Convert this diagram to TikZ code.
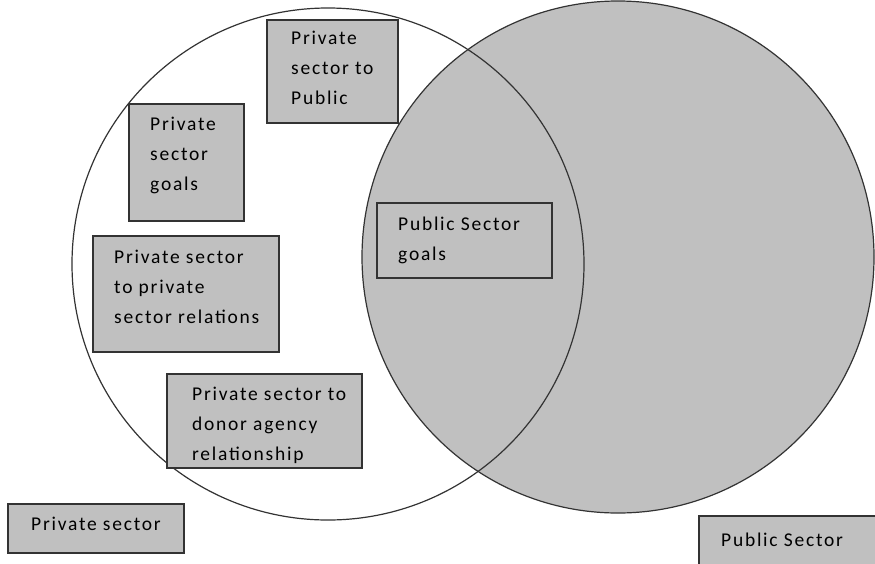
\documentclass[tikz,border=0pt]{standalone}
\usepackage{fontspec}
\setmainfont[LetterSpace=9]{Carlito}
\definecolor{sectorgray}{RGB}{192,192,192}
\tikzset{
    box/.style={draw=black!80, line width=1.4pt, fill=sectorgray},
    boxtext/.style={anchor=north west, inner sep=0pt, align=left,
        font=\fontsize{19.5}{30}\selectfont}
}
\begin{document}
\begin{tikzpicture}[x=1pt, y=-1pt]
            \clip (0,0) rectangle (875,563);

            % the two sectors
            \filldraw[fill=sectorgray, draw=black!80, line width=1.2pt] (618,257) circle (256);
            \draw[black!80, line width=1.2pt] (328,264) circle (256);

            % private side
            \draw[box] (267,20) rectangle (398,123);
            \node[boxtext] (toPublic) at (291,31) {Private\\sector to\\Public};

            \draw[box] (129,104) rectangle (244,221);
            \node[boxtext] (privGoals) at (150,117) {Private\\sector\\goals};

            \draw[box] (93,236) rectangle (279,352);
            \node[boxtext] (toPrivate) at (114,250) {Private sector\\to private\\sector relations};

            \draw[box] (167,374) rectangle (362,468);
            \node[boxtext] (toDonor) at (192,387) {Private sector to\\donor agency\\relationship};

            \draw[box] (8,504) rectangle (184,553);
            \node[boxtext] (privLabel) at (31,517) {Private sector};

            % public side
            \draw[box] (377,203) rectangle (552,278);
            \node[boxtext] (pubGoals) at (398,217) {Public Sector\\goals};

            \draw[box] (699,516) rectangle (890,590);
            \node[boxtext] (pubLabel) at (721,533) {Public Sector};
        \end{tikzpicture}
\end{document}
